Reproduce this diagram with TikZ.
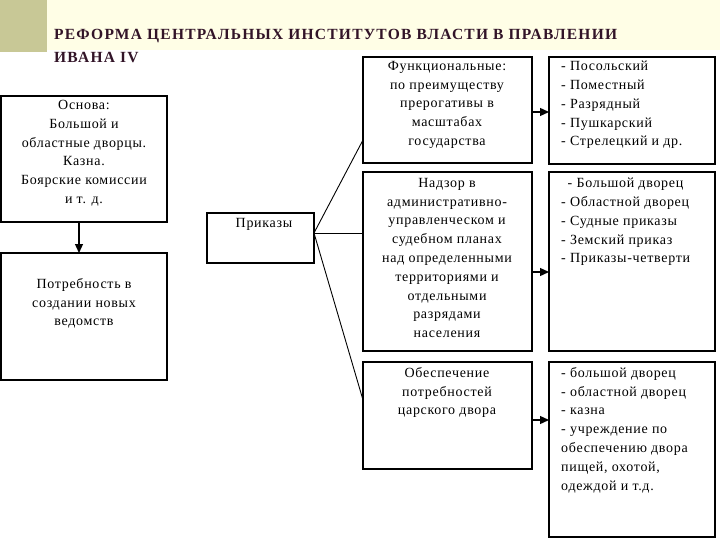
\documentclass[tikz,border=0pt]{standalone}
\usepackage{fontspec}
\setmainfont{Liberation Serif}
\newfontfamily\bodyf[LetterSpace=5]{Liberation Serif}
\newfontfamily\titf[LetterSpace=8]{Liberation Serif}
\usetikzlibrary{arrows.meta}
\begin{document}
\begin{tikzpicture}[x=1pt,y=-1pt,
  bx/.style={draw,line width=1.3pt,fill=white},
  tx/.style={font=\bodyf\fontsize{14}{18.8}\selectfont,align=center,anchor=north,inner sep=0pt},
  lt/.style={font=\bodyf\fontsize{14}{18.8}\selectfont,align=left,anchor=north west,inner sep=0pt},
  ar/.style={-{Triangle[length=9pt,width=8pt]},line width=1.3pt},
  ln/.style={line width=0.9pt}]
\useasboundingbox (0,0) rectangle (720,540);
\fill[white] (0,0) rectangle (720,540);
\fill[yellow!10] (0,0) rectangle (720,50);
\fill[fill={rgb,255:red,200;green,200;blue,150}] (0,0) rectangle (47,52);
\node[anchor=west,font=\titf\bfseries\fontsize{15.5}{17}\selectfont,text={rgb,255:red,50;green,20;blue,40},inner sep=0pt] (t1) at (54,36) {РЕФОРМА ЦЕНТРАЛЬНЫХ ИНСТИТУТОВ ВЛАСТИ В ПРАВЛЕНИИ};
\node[anchor=west,font=\titf\bfseries\fontsize{15.5}{17}\selectfont,text={rgb,255:red,50;green,20;blue,40},inner sep=0pt] (t2) at (54,58) {ИВАНА IV};
% boxes
\draw[bx] (1,96) rectangle (167,222);
\node[tx] (osnT) at (84,100) {Основа:\\Большой и\\областные дворцы.\\Казна.\\Боярские комиссии\\и т. д.};
\draw[bx] (1,253) rectangle (167,380);
\node[tx] (potT) at (84,278) {Потребность в\\создании новых\\ведомств};
\draw[bx] (207,213) rectangle (314,263);
\node[tx] (prT) at (264,218) {Приказы};
\draw[bx] (363,57) rectangle (532,163);
\node[tx] (f1) at (447,61) {Функциональные:\\по преимуществу\\прерогативы в\\масштабах\\государства};
\draw[bx] (363,172) rectangle (532,351);
\node[tx] (f2) at (447,178) {Надзор в\\административно-\\управленческом и\\судебном планах\\над определенными\\территориями и\\отдельными\\разрядами\\населения};
\draw[bx] (363,362) rectangle (532,469);
\node[tx] (f3) at (447,367) {Обеспечение\\потребностей\\царского двора};
\draw[bx] (549,57) rectangle (715,164);
\node[lt] (r1) at (561,61) {- Посольский\\- Поместный\\- Разрядный\\- Пушкарский\\- Стрелецкий и др.};
\draw[bx] (549,172) rectangle (715,351);
\node[lt] (r2) at (561,178) {\ \,- Большой дворец\\- Областной дворец\\- Судные приказы\\- Земский приказ\\- Приказы-четверти};
\draw[bx] (549,362) rectangle (715,537);
\node[lt] (r3) at (561,367) {- большой дворец\\- областной дворец\\- казна\\- учреждение по\\обеспечению двора\\пищей, охотой,\\одеждой и т.д.};
% connectors
\coordinate (a1) at (79,222); \coordinate (a2) at (79,253);
\draw[ar] (a1) -- (a2);
\coordinate (p) at (314,233);
\coordinate (c1) at (363,140); \coordinate (c2) at (363,233); \coordinate (c3) at (363,400);
\draw[ln] (p) -- (c1); \draw[ln] (p) -- (c2); \draw[ln] (p) -- (c3);
\coordinate (b1) at (532,112); \coordinate (e1) at (549,112);
\coordinate (b2) at (532,272); \coordinate (e2) at (549,272);
\coordinate (b3) at (532,420); \coordinate (e3) at (549,420);
\draw[ar] (b1) -- (e1); \draw[ar] (b2) -- (e2); \draw[ar] (b3) -- (e3);
\end{tikzpicture}
\end{document}
